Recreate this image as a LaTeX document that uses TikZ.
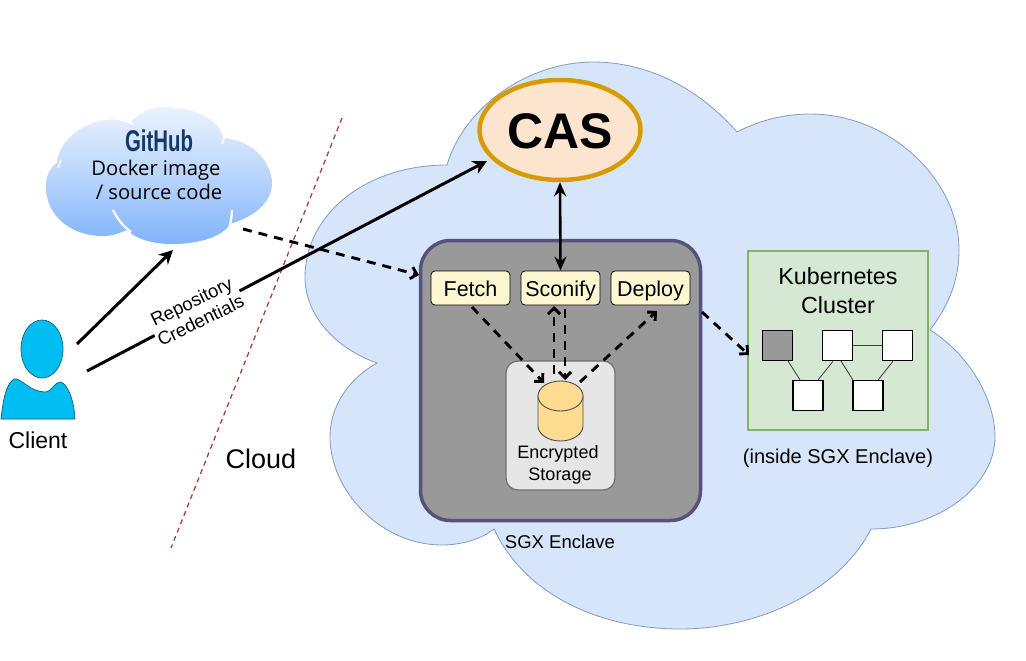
\documentclass[tikz,border=0pt]{standalone}
\usepackage{fontspec}
\setmainfont{Liberation Sans}
\newfontfamily\gitfont[FakeStretch=0.68]{Liberation Sans Bold}
\newfontfamily\openfont{Open Sans}
\usetikzlibrary{arrows.meta,shapes.geometric,calc}
\definecolor{cloudfill}{HTML}{D6E5F9}
\definecolor{cloudline}{HTML}{7E9CC4}
\definecolor{casfill}{HTML}{FDE4CE}
\definecolor{casline}{HTML}{D79B00}
\definecolor{sgxline}{HTML}{56517E}
\definecolor{sgxfill}{HTML}{999999}
\definecolor{stepfill}{HTML}{FDF8D2}
\definecolor{storefill}{HTML}{E6E6E6}
\definecolor{storeline}{HTML}{6E6E6E}
\definecolor{cylfill}{HTML}{FDDB90}
\definecolor{k8sfill}{HTML}{D5E8D4}
\definecolor{k8sline}{HTML}{82B366}
\definecolor{personfill}{HTML}{00BEF2}
\definecolor{personline}{HTML}{0A6378}
\definecolor{redline}{HTML}{A9423F}
\definecolor{gitnavy}{HTML}{12396A}
\definecolor{gitop}{HTML}{EAF3FE}
\definecolor{gitmid}{HTML}{B9D5FC}
\definecolor{gitbot}{HTML}{7FB4FB}
\tikzset{
  x=1pt,y=-1pt,
  txt/.style={inner sep=0pt,anchor=base,font=\fontsize{#1}{#1}\selectfont},
  stepbox/.style={draw=black,line width=0.8pt,fill=stepfill,rounded corners=4pt,minimum width=79pt,minimum height=34pt,inner sep=0pt,text height=16pt,text depth=0pt,font=\fontsize{21.5}{22}\selectfont},
  worker/.style={draw=black,line width=1.6pt,fill=white,minimum width=30pt,minimum height=30pt,inner sep=0pt},
  link/.style={draw=black!80,line width=0.8pt},
  solidarrow/.style={draw=black,line width=3pt,-{Stealth[length=14pt,width=14pt]}},
  dasharrow/.style={draw=black,line width=2.9pt,dash pattern=on 9pt off 7pt,-{Straight Barb[length=6pt,width=12pt]}},
}
\begin{document}
\begin{tikzpicture}
\useasboundingbox (0,0) rectangle (1026,661);
% big cloud
\path[fill=cloudfill,draw=cloudline,line width=0.8pt]
 (447,165) .. controls (465,105) and (530,62) .. (593,62)
 .. controls (650,62) and (700,90) .. (737,132)
 .. controls (760,120) and (785,114) .. (810,114)
 .. controls (890,114) and (959,180) .. (959,250)
 .. controls (959,285) and (945,310) .. (930,330)
 .. controls (970,355) and (995,400) .. (995,437)
 .. controls (995,485) and (940,529) .. (871,529)
 .. controls (840,590) and (760,629) .. (680,629)
 .. controls (600,629) and (525,595) .. (494,529)
 .. controls (480,540) and (460,545) .. (442,545)
 .. controls (380,545) and (330,490) .. (330,437)
 .. controls (330,405) and (350,378) .. (377,363)
 .. controls (335,348) and (305,315) .. (305,277)
 .. controls (305,215) and (365,165) .. (447,165) -- cycle;
% GitHub cloud
\path[top color=gitop,bottom color=gitbot,middle color=gitmid]
 (57,163) .. controls (58,137) and (97,110) .. (130,123)
 .. controls (140,112) and (150,107) .. (163,107)
 .. controls (195,107) and (220,120) .. (223,138)
 .. controls (255,140) and (272,165) .. (272,183)
 .. controls (272,205) and (250,218) .. (230,224)
 .. controls (222,238) and (195,244) .. (173,244)
 .. controls (150,244) and (135,238) .. (127,230)
 .. controls (115,235) and (110,236) .. (103,236)
 .. controls (70,236) and (46,215) .. (46,187)
 .. controls (46,175) and (50,168) .. (57,163) -- cycle;
\draw[white,line width=2.2pt] (113,210) .. controls (118,220) and (123,226) .. (131,232);
\draw[white,line width=2.2pt] (232,210) .. controls (232,215) and (231,220) .. (230,225);
\draw[white,line width=1.6pt] (120,119) -- (133,124);
\draw[white,line width=1.6pt] (222,144) -- (225,135);
\draw[white,line width=1.6pt] (58,168) -- (61,160);
\node[txt=30,text=gitnavy] (gh) at (159,151) {\gitfont GitHub};
\node[txt=20.2] (gh1) at (156,175) {\openfont Docker image};
\node[txt=20.2] (gh2) at (159,199) {\openfont / source code};
% boundary
\coordinate (bndA) at (342,118);
\coordinate (bndB) at (171,548);
\draw[redline,line width=1.3pt,dash pattern=on 5pt off 4pt] (bndA) -- (bndB);
% person
\path[fill=personfill,draw=personline,line width=0.7pt]
 (1,419) .. controls (3,400) and (6,384) .. (14,379)
 .. controls (20,377) and (30,392) .. (45,392)
 .. controls (52,392) and (55,381) .. (61,382)
 .. controls (68,385) and (74,400) .. (75,419) -- cycle;
\path[fill=personfill,draw=personline,line width=0.7pt] (42,349) ellipse [x radius=21,y radius=29];
\node[txt=23] (client) at (38,448) {Client};
% CAS
\node[ellipse,draw=casline,fill=casfill,line width=4.5pt,minimum width=161pt,minimum height=100pt,inner sep=0pt,text height=36pt,text depth=0pt,font=\bfseries\fontsize{50}{50}\selectfont] (cas) at (560,130) {CAS};
% SGX
\node[draw=sgxline,fill=sgxfill,line width=3.5pt,rounded corners=30pt,minimum width=280pt,minimum height=280pt,inner sep=0pt] (sgx) at (560.5,380.5) {};
\node[stepbox] (fetch) at (470.5,288) {Fetch};
\node[stepbox] (sconify) at (560.5,288) {Sconify};
\node[stepbox] (deploy) at (650.5,288) {Deploy};
\node[draw=storeline,fill=storefill,line width=1.2pt,rounded corners=12pt,minimum width=109pt,minimum height=129pt,inner sep=0pt] (store) at (560.5,425.5) {};
\path[fill=cylfill,draw=black!70,line width=0.9pt]
 (538,396) -- (538,426) .. controls (538,434) and (548,441) .. (560.5,441)
 .. controls (573,441) and (583,434) .. (583,426) -- (583,396) -- cycle;
\path[fill=cylfill,draw=black!70,line width=0.9pt] (560.5,396) ellipse [x radius=22.5,y radius=15];
\node[txt=18] (st1) at (558,458) {Encrypted};
\node[txt=18] (st2) at (560,480) {Storage};
\node[txt=18.5] (sgxlabel) at (560,548) {SGX Enclave};
% Kubernetes
\node[draw=k8sline,fill=k8sfill,line width=2.8pt,minimum width=180pt,minimum height=179pt,inner sep=0pt] (k8s) at (838,340.5) {};
\node[txt=23.3] (k8sa) at (838,284) {Kubernetes};
\node[txt=23.3] (k8sb) at (838,313) {Cluster};
\node[txt=20] (k8sc) at (838,463) {(inside SGX Enclave)};
\node[worker,fill=sgxfill] (w1) at (777.5,345.5) {};
\node[worker] (w2) at (837.5,345.5) {};
\node[worker] (w3) at (897.5,345.5) {};
\node[worker] (w4) at (808,395.5) {};
\node[worker] (w5) at (868,395.5) {};
\draw[link] (w1.-56) -- (w4.117);
\draw[link] (w2.-106) -- (w4.57);
\draw[link] (w2.-77) -- (w5.134);
\draw[link] (w3.-106) -- (w5.57);
\draw[draw=black!60!k8sline,line width=1.5pt] (w2) -- (w3);
\node[txt=27] (cloudlabel) at (261,468) {Cloud};
% connectors
\coordinate (cl1) at (77,344);
\coordinate (cl2) at (87,371);
\coordinate (ghin) at (173,250);
\coordinate (ghout) at (243,229);
\coordinate (casin) at (487,161);
\coordinate (sgxin) at (419,275);
\draw[solidarrow] (cl1) -- (ghin);
\draw[solidarrow] (cl2) -- (casin);
\node[fill=white,inner sep=1pt,rotate=26,align=center,font=\fontsize{18.5}{21}\selectfont] (creds) at (196,311) {Repository\\Credentials};
\draw[dasharrow] (ghout) -- (sgxin);
\draw[draw=black,line width=2.6pt,{Stealth[length=14pt,width=12pt]}-{Stealth[length=14pt,width=12pt]}] (cas.south) -- (sconify.north);
\coordinate (dbl) at (544,383);
\coordinate (dbr) at (580,382);
\coordinate (dbu) at (554,374);
\coordinate (dbd) at (565,380);
\coordinate (fo) at (472,307);
\coordinate (su) at (554,306);
\coordinate (sd) at (565,309);
\coordinate (di) at (657,311);
\coordinate (so) at (702,312);
\coordinate (ki) at (749,355);
\draw[dasharrow] (fo) -- (dbl);
\draw[dasharrow] (dbu) -- (su);
\draw[dasharrow] (sd) -- (dbd);
\draw[dasharrow] (dbr) -- (di);
\draw[dasharrow] (so) -- (ki);
\end{tikzpicture}
\end{document}
